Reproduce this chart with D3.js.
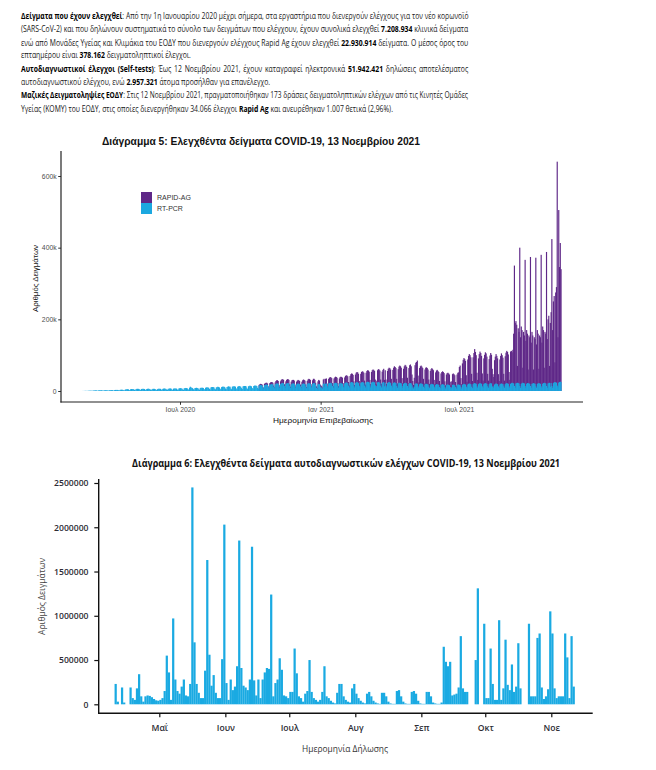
<!DOCTYPE html>
<html><head><meta charset="utf-8">
<script src="https://cdn.jsdelivr.net/npm/d3@7"></script>
<style>html,body{margin:0;padding:0;background:#fff;}svg{display:block;}</style>
</head><body>
<svg id="c" width="656" height="770"></svg>
<script>
// ---------------- DATA ----------------
const paragraph = [
 "**Δείγματα που έχουν ελεγχθεί**: Από την 1η Ιανουαρίου 2020 μέχρι σήμερα, στα εργαστήρια που διενεργούν ελέγχους για τον νέο κορωνοϊό",
 "(SARS-CoV-2) και που δηλώνουν συστηματικά το σύνολο των δειγμάτων που ελέγχουν, έχουν συνολικά ελεγχθεί **7.208.934** κλινικά δείγματα",
 "ενώ από Μονάδες Υγείας και Κλιμάκια του ΕΟΔΥ που διενεργούν ελέγχους Rapid Ag έχουν ελεγχθεί **22.930.914** δείγματα. Ο μέσος όρος του",
 "επταημέρου είναι **378.162** δειγματοληπτικοί έλεγχοι.",
 "**Αυτοδιαγνωστικοί έλεγχοι (Self-tests)**: Έως 12 Νοεμβρίου 2021, έχουν καταγραφεί ηλεκτρονικά **51.942.421** δηλώσεις αποτελέσματος",
 "αυτοδιαγνωστικού ελέγχου, ενώ **2.957.321** άτομα προσήλθαν για επανέλεγχο.",
 "**Μαζικές Δειγματοληψίες ΕΟΔΥ**: Στις 12 Νοεμβρίου 2021, πραγματοποιήθηκαν 173 δράσεις δειγματοληπτικών ελέγχων από τις Κινητές Ομάδες",
 "Υγείας (ΚΟΜΥ) του ΕΟΔΥ, στις οποίες διενεργήθηκαν 34.066 έλεγχοι **Rapid Ag** και ανευρέθηκαν 1.007 θετικά (2,96%)."
];

const title5 = "Διάγραμμα 5: Ελεγχθέντα δείγματα COVID-19, 13 Νοεμβρίου 2021";
const xTitle5 = "Ημερομηνία Επιβεβαίωσης";
const yTitle5 = "Αριθμός Δειγμάτων";
const series5 = ["RT-PCR", "RAPID-AG"];
const legendOrder5 = ["RAPID-AG", "RT-PCR"];
const xTicks5 = ["2020-07-01", "2021-01-01", "2021-07-01"];
const xTickLabels5 = ["Ιουλ 2020", "Ιαν 2021", "Ιουλ 2021"];
const yTicks5 = [0, 200000, 400000, 600000];
const yTickLabels5 = ["0", "200k", "400k", "600k"];

// RT-PCR daily samples (thousands), from 2020-02-24, one row per week (Mon..Sun)
const pcrStart = "2020-02-24";
const pcrValues = [
0.1,0.1,0.2,0.3,0.4,0.3,0.2, 0.5,0.6,0.7,0.8,0.9,0.6,0.4, 1.2,1.3,1.5,1.6,1.8,1.0,0.7, 1.6,1.8,2.0,1.9,2.1,1.2,0.8,
1.7,1.9,2.1,2.0,2.2,1.3,0.9, 2.0,2.2,2.4,2.3,2.5,1.5,1.0, 2.5,3,3,3,3,2,1.5, 3,3.5,3.5,3.5,3,2,1.5,
4,4.5,5,5,4.5,3,2, 5,5.5,5.5,5,5,3,2, 5.5,6,6,6,5.5,3.5,2.5, 5.5,6,6,6,5.5,3.5,2.5,
5.5,6,6.5,6,5.5,3.5,2.5, 5,6,6,6,5.5,3.5,2.5, 5,6,6.5,6,6,4,2.5, 6,6.5,7,6.5,6,4,3,
6,6.5,7,7,6.5,4,3, 6.5,7,7,7,6.5,4,3, 7,7.5,8,7.5,7,4.5,3, 7.5,8,8.5,8,7.5,5,3.5,
9,12,10,9,8,5,3.5, 8,8.5,9,8.5,8,5,3.5, 8.5,9,9,9,8.5,5.5,4, 9,10,10,10,9,6,4,
10,11,11,11,10,6,4.5, 10,11,12,11,10,6.5,4.5, 11,12,12,12,11,7,5, 11,12,13,12,12,7,5,
12,13,13,13,12,7.5,5, 12,13,14,13,12,8,5.5, 13,14,14,14,13,8,5.5, 13,14,15,14,13,8.5,6,
14,15,15,15,14,9,6, 15,16,17,16,15,10,7, 16,17,18,18,17,11,7, 17,18,19,19,18,12,8,
18,20,21,21,20,13,9, 19,21,22,22,21,14,9, 19,21,22,22,21,14,9, 18,20,21,21,20,13,9,
18,20,21,20,19,13,8, 18,20,21,20,19,13,8, 19,21,22,21,20,13,9, 20,22,22,21,17,9,6,
18,20,19,12,8,10,7, 20,21,12,20,21,14,9, 21,22,23,22,21,14,9, 21,22,23,22,21,14,9,
20,22,22,21,20,13,9, 21,23,24,23,22,15,10, 22,24,25,24,23,15,10, 22,24,25,24,22,15,10,
22,24,25,24,23,15,10, 23,25,26,25,24,16,10, 23,25,26,25,24,16,10, 14,24,25,24,23,15,10,
22,24,25,13,23,15,10, 22,24,25,24,22,15,10, 21,23,24,23,22,14,9, 21,23,23,22,21,14,9,
20,22,23,22,21,14,9, 20,22,22,21,16,10,7, 12,20,21,21,20,13,9, 19,21,21,20,19,12,8,
18,20,20,19,18,12,8, 18,19,20,19,18,12,8, 17,19,19,18,17,11,8, 17,18,19,18,17,11,7,
16,18,18,17,16,11,7, 10,17,18,17,16,11,7, 16,18,18,17,16,11,7, 17,19,20,19,18,12,8,
18,20,21,20,19,12,8, 19,21,22,21,20,13,9, 19,21,22,21,20,13,9, 19,21,22,21,20,13,9,
19,21,22,21,12,13,9, 18,20,21,20,19,13,9, 18,20,21,20,19,13,9, 19,21,22,21,20,13,9,
20,22,23,22,21,14,9, 21,22,23,22,21,14,9, 20,22,23,22,21,14,9, 20,22,22,21,20,14,9,
20,21,22,21,20,13,9, 20,21,22,21,20,13,9, 20,22,23,22,21,14,9, 21,22,23,12,22,14,9,
22,24,25,24,23,15,10, 23,25,26,25
];

// RAPID-AG daily samples (thousands), from 2020-10-12, one row per week (Mon..Sun)
const rapidStart = "2020-10-12";
const rapidValues = [
2,3,3,3,3,1,1, 4,5,5,5,4,2,1, 5,6,6,6,5,3,2, 6,8,9,9,8,4,3,
8,10,11,11,10,5,3, 8,10,11,11,10,5,3, 8,10,10,10,9,5,3, 8,9,10,10,9,5,3,
8,10,11,11,10,5,3, 9,11,12,12,11,6,4, 10,12,12,10,6,4,3, 9,11,10,6,5,5,3,
12,13,7,14,14,7,4, 13,15,16,16,15,8,5, 14,16,17,17,16,8,5, 15,17,18,18,17,9,5,
17,19,20,20,19,10,6, 20,23,24,24,22,12,7, 24,27,28,28,26,13,8, 26,29,30,30,28,14,8,
28,31,32,32,30,15,9, 30,33,34,34,32,16,9, 15,34,36,36,34,17,10, 32,35,37,18,35,17,10,
34,38,40,40,38,19,11, 38,42,45,44,42,20,12, 40,45,48,47,44,22,13, 42,47,50,49,46,23,13,
44,50,52,48,30,18,10, 25,52,58,60,65,30,15, 45,48,50,48,45,22,13, 42,45,46,45,42,20,12,
38,42,44,42,40,19,11, 35,38,40,38,36,17,10, 32,35,36,35,33,16,9, 30,32,33,32,30,15,9,
17,30,31,30,28,14,8, 30,33,34,50,55,25,12, 60,68,72,70,66,32,18, 70,78,82,80,75,36,20,
75,85,95,88,80,38,22, 72,82,88,85,78,36,20, 72,80,86,84,76,35,20, 70,78,84,80,50,34,30,
68,76,82,78,72,34,19, 70,78,84,80,74,35,20, 78,86,90,88,82,40,22, 90,90,85,93,139,336,181,
174,163,47,153,144,386,141, 160,148,42,143,134,352,131, 150,138,38,134,130,360,126,
145,134,38,129,125,359,121, 150,139,40,134,130,367,126, 160,148,42,143,139,374,136,
179,188,47,178,198,410,161, 228,241,55,251,267,625,140, 482,321,387,315
];

const title6 = "Διάγραμμα 6: Ελεγχθέντα δείγματα αυτοδιαγνωστικών ελέγχων COVID-19, 13 Νοεμβρίου 2021";
const xTitle6 = "Ημερομηνία Δήλωσης";
const yTitle6 = "Αριθμός Δειγμάτων";
const xTicks6 = ["2021-05-01","2021-06-01","2021-07-01","2021-08-01","2021-09-01","2021-10-01","2021-11-01"];
const xTickLabels6 = ["Μαΐ","Ιουν","Ιουλ","Αυγ","Σεπ","Οκτ","Νοε"];
const yTicks6 = [0, 500000, 1000000, 1500000, 2000000, 2500000];

// Self-tests daily (thousands), from 2021-04-10
const selfStart = "2021-04-10";
const selfValues = [
230,30,0,190,20,0,0,190,70,50,
180,340,90,30,90,100,95,80,60,45,
40,50,70,150,550,360,50,970,280,150,
120,200,280,100,90,230,2450,700,230,130,
70,70,380,1630,560,210,330,130,70,70,
510,2030,240,50,280,160,200,430,1850,410,
210,190,160,280,1780,270,100,280,70,280,
360,410,400,1240,90,240,280,520,390,100,
90,70,140,140,630,350,90,70,30,120,
150,500,140,70,50,30,50,140,430,90,
70,40,20,10,130,230,230,90,50,30,
20,180,230,120,70,40,20,10,120,140,
90,40,20,10,5,130,130,90,30,10,
5,5,150,160,90,30,10,5,5,140,
150,120,40,10,5,5,140,140,90,20,
10,5,5,20,650,480,430,480,100,110,
120,190,770,180,140,140,0,0,0,500,
1310,0,0,910,70,70,630,230,50,50,
950,50,180,730,220,160,450,140,200,690,
180,0,0,0,910,90,90,90,750,800,
190,60,90,170,1050,800,180,70,90,90,
90,800,530,70,770,200
];

// ---------------- LAYOUT / STYLE ----------------
const C_PCR = "#1CA8E0", C_RAPID = "#5F2888", C_SELF = "#1AAAE2";
const parse = d3.timeParse("%Y-%m-%d");
const svg = d3.select("#c");
svg.append("rect").attr("width", 656).attr("height", 770).attr("fill", "#fff");

// ---- paragraph ----
const paraX = 21;
const paraY = [19, 32, 45.5, 58, 71.5, 84.5, 98, 111.5];
const paraEnd = [469, 469, 469, 242, 469, 293, 469, 380];
const paraJustify = [1, 1, 1, 0, 1, 0, 1, 0];
const paraG = svg.append("g").attr("font-family", "'Open Sans', 'Noto Sans', sans-serif")
  .attr("font-size", 9.5).attr("fill", "#1a1a1a");
const pTexts = paragraph.map(line => {
  const t = paraG.append("text").attr("x", 0).attr("y", 0);
  line.split("**").forEach((seg, j) => {
    if (seg) t.append("tspan").attr("font-weight", j % 2 ? 700 : 400).attr("fill", j % 2 ? "#000" : null).text(seg);
  });
  return t;
});
const nat = pTexts.map(t => t.node().getComputedTextLength());
const ratios = [];
paraJustify.forEach((j, k) => { if (j) ratios.push((paraEnd[k] - paraX) / nat[k]); });
const sPara = d3.median(ratios);
pTexts.forEach((t, k) => {
  const target = paraEnd[k] - paraX;
  let s = sPara, ws = 0;
  if (paraJustify[k]) {
    const n = (paragraph[k].match(/ /g) || []).length;
    ws = (target / s - nat[k]) / n;
    if (ws < 0) { s = target / nat[k]; ws = 0; }
  }
  t.attr("transform", `translate(${paraX},${paraY[k]}) scale(${s},1)`);
  if (ws > 0) t.style("word-spacing", ws + "px");
});

// ---------------- CHART 5 ----------------
const g5 = svg.append("g").attr("font-family", "'Liberation Sans', Arial, sans-serif");
const x5 = d3.scaleTime().domain([parse("2020-07-01"), parse("2021-07-01")]).range([180, 459]);
const y5 = d3.scaleLinear().domain([0, 600000]).range([391, 176]);

const p0 = parse(pcrStart), r0 = parse(rapidStart);
const rows5 = pcrValues.map((v, i) => ({ date: d3.timeDay.offset(p0, i), "RT-PCR": v * 1000, "RAPID-AG": 0 }));
const rOff = d3.timeDay.count(p0, r0);
rapidValues.forEach((v, j) => { if (rows5[rOff + j]) rows5[rOff + j]["RAPID-AG"] = v * 1000; });
const stack5 = d3.stack().keys(series5)(rows5);
const color5 = d3.scaleOrdinal().domain(series5).range([C_PCR, C_RAPID]);

// draw upper layer first (down to baseline) and lower layer on top: same visual result as stacking,
// avoids hairline gaps between sub-pixel-wide bars
const drawOrder = stack5.slice().reverse();
g5.selectAll("g.layer").data(drawOrder).join("g").attr("class", "layer")
  .attr("fill", d => color5(d.key))
  .selectAll("rect").data(d => d.filter(p => p[1] - p[0] > 0)).join("rect")
  .attr("x", d => x5(d.data.date) - 0.2)
  .attr("width", d => x5(d3.timeDay.offset(d.data.date, 1)) - x5(d.data.date) + 0.4)
  .attr("y", d => y5(d[1]))
  .attr("height", d => Math.max(0, y5(0) - y5(d[1])));

// axes 5
const ax5L = g5.append("g").attr("transform", "translate(61,0)")
  .call(d3.axisLeft(y5).tickValues(yTicks5).tickFormat((d, i) => yTickLabels5[i]).tickSize(2.8).tickPadding(1.6));
const ax5B = g5.append("g").attr("transform", "translate(0,402)")
  .call(d3.axisBottom(x5).tickValues(xTicks5.map(parse)).tickFormat((d, i) => xTickLabels5[i]).tickSize(2.8));
[ax5L, ax5B].forEach(a => {
  a.select(".domain").remove();
  a.selectAll("line").attr("stroke", "#333");
  a.selectAll("text").attr("fill", "#4d4d4d").attr("font-size", 6.8).attr("font-family", "'Liberation Sans', Arial, sans-serif");
});
ax5B.selectAll("text").attr("y", 8).attr("dy", "0.35em");
g5.append("line").attr("x1", 61).attr("x2", 61).attr("y1", 151).attr("y2", 402.6).attr("stroke", "#222").attr("stroke-width", 1.2);
g5.append("line").attr("x1", 60.4).attr("x2", 583).attr("y1", 402).attr("y2", 402).attr("stroke", "#222").attr("stroke-width", 1.2);

g5.append("text").attr("x", 261).attr("y", 144.5).attr("text-anchor", "middle")
  .attr("font-weight", 700).attr("font-size", 10.5).attr("fill", "#111")
  .attr("textLength", 318).attr("lengthAdjust", "spacingAndGlyphs").text(title5);
g5.append("text").attr("x", 323).attr("y", 422.8).attr("text-anchor", "middle")
  .attr("font-size", 8).attr("fill", "#111")
  .attr("textLength", 100).attr("lengthAdjust", "spacingAndGlyphs").text(xTitle5);
g5.append("text").attr("transform", "translate(37.8,278.5) rotate(-90)").attr("text-anchor", "middle")
  .attr("font-size", 8).attr("fill", "#111")
  .attr("textLength", 67).attr("lengthAdjust", "spacingAndGlyphs").text(yTitle5);

// legend
const leg = g5.append("g").attr("transform", "translate(141,192)");
legendOrder5.forEach((k, i) => {
  leg.append("rect").attr("x", 0).attr("y", i * 11).attr("width", 11).attr("height", 11).attr("fill", color5(k));
  leg.append("text").attr("x", 16).attr("y", i * 11 + 5.5).attr("dy", "0.35em")
    .attr("font-size", 7).attr("fill", "#333").text(k);
});

// ---------------- CHART 6 ----------------
const g6 = svg.append("g").attr("font-family", "'Open Sans', 'Noto Sans', sans-serif");
const x6 = d3.scaleTime().domain([parse("2021-05-01"), parse("2021-11-01")]).range([159.3, 551.3]);
const y6 = d3.scaleLinear().domain([0, 2500000]).range([704.3, 483]);
const s0 = parse(selfStart);
const rows6 = selfValues.map((v, i) => ({ date: d3.timeDay.offset(s0, i), value: v * 1000 }));

g6.append("g").attr("fill", C_SELF).selectAll("rect").data(rows6).join("rect")
  .attr("x", d => x6(d.date))
  .attr("width", d => x6(d3.timeDay.offset(d.date, 1)) - x6(d.date) + 0.1)
  .attr("y", d => y6(d.value))
  .attr("height", d => y6(0) - y6(d.value));

const ax6L = g6.append("g").attr("transform", "translate(98.7,0)")
  .call(d3.axisLeft(y6).tickValues(yTicks6).tickFormat(d3.format("d")).tickSize(4.4).tickPadding(5.8));
const ax6B = g6.append("g").attr("transform", "translate(0,713.3)")
  .call(d3.axisBottom(x6).tickValues(xTicks6.map(parse)).tickFormat((d, i) => xTickLabels6[i]).tickSize(4));
[ax6L, ax6B].forEach(a => {
  a.select(".domain").remove();
  a.selectAll("line").attr("stroke", "#111").attr("stroke-width", 1.2);
  a.selectAll("text").attr("fill", "#2b2b33").attr("font-size", 8.6).attr("font-weight", 600)
    .attr("font-family", "'Open Sans', 'Noto Sans', sans-serif");
});
ax6B.selectAll("text").attr("y", 14.4).attr("dy", "0.35em");
g6.append("line").attr("x1", 98.7).attr("x2", 98.7).attr("y1", 479).attr("y2", 714).attr("stroke", "#111").attr("stroke-width", 1.4);
g6.append("line").attr("x1", 98).attr("x2", 592.7).attr("y1", 713.3).attr("y2", 713.3).attr("stroke", "#111").attr("stroke-width", 1.4);

g6.append("text").attr("x", 346).attr("y", 466.8).attr("text-anchor", "middle")
  .attr("font-weight", 700).attr("font-size", 10).attr("fill", "#111")
  .attr("textLength", 428).attr("lengthAdjust", "spacingAndGlyphs").text(title6);
g6.append("text").attr("x", 345).attr("y", 752).attr("text-anchor", "middle")
  .attr("font-size", 8.6).attr("fill", "#333")
  .attr("textLength", 86).attr("lengthAdjust", "spacingAndGlyphs").text(xTitle6);
g6.append("text").attr("transform", "translate(44.8,596.5) rotate(-90)").attr("text-anchor", "middle")
  .attr("font-size", 8.6).attr("fill", "#444")
  .attr("textLength", 77).attr("lengthAdjust", "spacingAndGlyphs").text(yTitle6);
</script>
</body></html>
